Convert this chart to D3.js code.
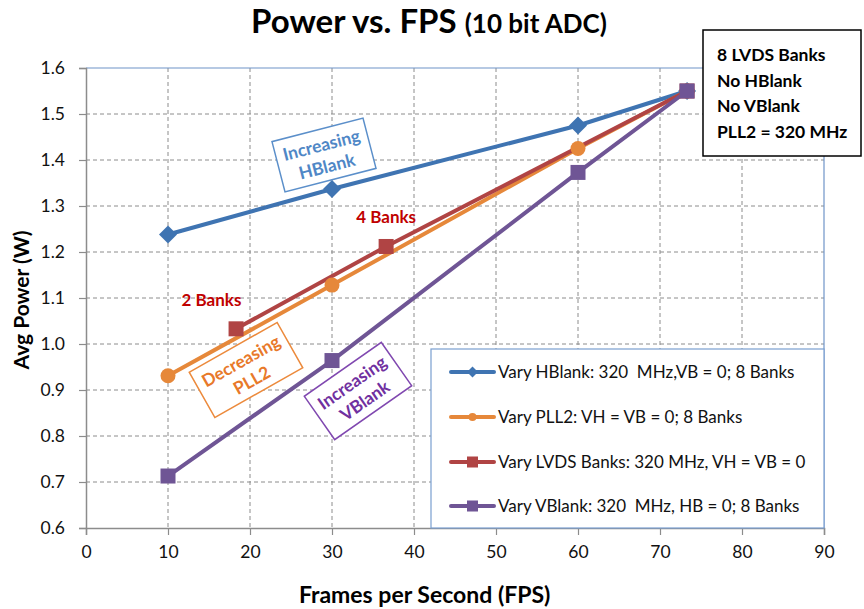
<!DOCTYPE html>
<html>
<head>
<meta charset="utf-8">
<script src="https://cdn.jsdelivr.net/npm/d3@7"></script>
<style>
  body { margin: 0; background: #fff; }
  svg { font-family: Lato, "Open Sans", sans-serif; }
</style>
</head>
<body>
<svg id="chart" width="864" height="609"></svg>
<script>
// data
var xTicks = [0, 10, 20, 30, 40, 50, 60, 70, 80, 90];
var yTicks = [0.6, 0.7, 0.8, 0.9, 1.0, 1.1, 1.2, 1.3, 1.4, 1.5, 1.6];

var hblankFps = [10, 30, 60, 73.3];
var hblankPow = [1.238, 1.337, 1.475, 1.55];
var pllFps = [10, 30, 60, 73.3];
var pllPow = [0.931, 1.128, 1.425, 1.55];
var lvdsFps = [18.3, 36.6, 73.3];
var lvdsPow = [1.033, 1.212, 1.55];
var vblankFps = [10, 30, 60, 73.3];
var vblankPow = [0.713, 0.964, 1.373, 1.55];

var seriesNames = [
  "Vary HBlank: 320  MHz,VB = 0; 8 Banks",
  "Vary PLL2: VH = VB = 0; 8 Banks",
  "Vary LVDS Banks: 320 MHz, VH = VB = 0",
  "Vary VBlank: 320  MHz, HB = 0; 8 Banks"
];
var seriesColors = ["#3f74b2", "#e6883a", "#b04444", "#6f5595"];
var seriesMarkers = ["diamond", "circle", "square", "square"];

var infoLines = ["8 LVDS Banks", "No HBlank", "No VBlank", "PLL2 = 320 MHz"];

(function () {
  var zip = function (xs, ys) {
    return xs.map(function (x, i) { return { x: x, y: ys[i] }; });
  };
  var series = [
    zip(hblankFps, hblankPow),
    zip(pllFps, pllPow),
    zip(lvdsFps, lvdsPow),
    zip(vblankFps, vblankPow)
  ];

  var svg = d3.select("#chart");
  var pl = 86, pr = 824, pt = 68, pb = 528;

  var x = d3.scaleLinear().domain([0, 90]).range([pl, pr]);
  var y = d3.scaleLinear().domain([0.6, 1.6]).range([pb, pt]);

  // grid
  svg.append("g").selectAll("line").data(xTicks.slice(1, -1)).enter().append("line")
    .attr("x1", function (d) { return x(d); }).attr("x2", function (d) { return x(d); })
    .attr("y1", pt).attr("y2", pb)
    .attr("stroke", "#8c8c8c").attr("stroke-width", 1).attr("stroke-dasharray", "4,3");
  svg.append("g").selectAll("line").data(yTicks.slice(1, -1)).enter().append("line")
    .attr("x1", pl).attr("x2", pr)
    .attr("y1", function (d) { return y(d); }).attr("y2", function (d) { return y(d); })
    .attr("stroke", "#8c8c8c").attr("stroke-width", 1).attr("stroke-dasharray", "4,3");

  // plot frame top / right
  svg.append("line").attr("x1", pl).attr("x2", pr).attr("y1", pt).attr("y2", pt)
    .attr("stroke", "#6f94c8").attr("stroke-width", 1.2);
  svg.append("line").attr("x1", pr).attr("x2", pr).attr("y1", pt).attr("y2", pb)
    .attr("stroke", "#6f94c8").attr("stroke-width", 1.2);

  // axes
  var xAxis = svg.append("g").attr("transform", "translate(0," + pb + ")")
    .call(d3.axisBottom(x).tickValues(xTicks).tickSize(7).tickPadding(11).tickFormat(d3.format("d")));
  var yAxis = svg.append("g").attr("transform", "translate(" + pl + ",0)")
    .call(d3.axisLeft(y).tickValues(yTicks).tickSize(7).tickPadding(14).tickFormat(d3.format(".1f")));
  [xAxis, yAxis].forEach(function (a) {
    a.select(".domain").attr("stroke", "#8c8c8c").attr("stroke-width", 1.5);
    a.selectAll(".tick line").attr("stroke", "#8c8c8c").attr("stroke-width", 1.2);
    a.selectAll(".tick text").attr("fill", "#111").style("font-size", "17.5px")
      .style("font-family", "Lato, sans-serif");
  });

  // lines + markers
  var line = d3.line().x(function (d) { return x(d.x); }).y(function (d) { return y(d.y); });

  var drawMarker = function (g, kind, color, size) {
    if (kind === "circle") {
      g.append("circle").attr("r", size / 2).attr("fill", color);
    } else if (kind === "square") {
      g.append("rect").attr("x", -size / 2).attr("y", -size / 2)
        .attr("width", size).attr("height", size).attr("fill", color);
    } else {
      var h = size / 2 + 1.5;
      g.append("path").attr("d", "M0," + (-h) + "L" + h + ",0L0," + h + "L" + (-h) + ",0Z")
        .attr("fill", color);
    }
  };

  series.forEach(function (data, i) {
    svg.append("path").datum(data).attr("d", line)
      .attr("fill", "none").attr("stroke", seriesColors[i]).attr("stroke-width", 4)
      .attr("stroke-linejoin", "round");
  });
  series.forEach(function (data, i) {
    data.forEach(function (d) {
      var g = svg.append("g").attr("transform", "translate(" + x(d.x) + "," + y(d.y) + ")");
      drawMarker(g, seriesMarkers[i], seriesColors[i], 15);
    });
  });

  // rotated annotation boxes
  var notes = [
    { text: ["Increasing", "HBlank"], cx: 324, cy: 155, w: 94, h: 52, angle: -14.5, color: "#4f87c6", border: "#5b8fca" },
    { text: ["Decreasing", "PLL2"], cx: 246, cy: 370, w: 101, h: 52, angle: -29.5, color: "#e8792a", border: "#ec8a3c" },
    { text: ["Increasing", "VBlank"], cx: 358, cy: 391, w: 94, h: 53, angle: -35, color: "#7030a0", border: "#8048b0" }
  ];
  notes.forEach(function (n) {
    var g = svg.append("g").attr("transform", "translate(" + n.cx + "," + n.cy + ") rotate(" + n.angle + ")");
    g.append("rect").attr("x", -n.w / 2).attr("y", -n.h / 2).attr("width", n.w).attr("height", n.h)
      .attr("fill", "#fff").attr("stroke", n.border).attr("stroke-width", 1.5);
    n.text.forEach(function (t, j) {
      g.append("text").attr("x", 0).attr("y", j === 0 ? -4 : 18)
        .attr("text-anchor", "middle").attr("fill", n.color)
        .style("font-size", "17.5px").style("font-weight", "bold").text(t);
    });
  });

  // bank labels
  svg.append("text").attr("x", x(15.3)).attr("y", 306).attr("text-anchor", "middle")
    .attr("fill", "#c00000").style("font-size", "17px").style("font-weight", "bold").text("2 Banks");
  svg.append("text").attr("x", x(36.6)).attr("y", 223).attr("text-anchor", "middle")
    .attr("fill", "#c00000").style("font-size", "17px").style("font-weight", "bold").text("4 Banks");

  // legend
  var lg = svg.append("g");
  lg.append("rect").attr("x", 431).attr("y", 349).attr("width", pr - 431).attr("height", pb - 349)
    .attr("fill", "#fff").attr("stroke", "#7a9fd0").attr("stroke-width", 1.2);
  var legY = [372, 417, 462, 506];
  seriesNames.forEach(function (name, i) {
    var g = lg.append("g").attr("transform", "translate(0," + legY[i] + ")");
    g.append("line").attr("x1", 451).attr("x2", 494).attr("y1", 0).attr("y2", 0)
      .attr("stroke", seriesColors[i]).attr("stroke-width", 4).attr("stroke-linecap", "round");
    var m = g.append("g").attr("transform", "translate(472.5,0)");
    drawMarker(m, seriesMarkers[i], seriesColors[i], seriesMarkers[i] === "square" ? 11 : 8);
    g.append("text").attr("x", 498).attr("y", 6).attr("fill", "#111")
      .style("font-size", "17px").style("white-space", "pre").text(name);
  });

  // info box
  svg.append("rect").attr("x", 703).attr("y", 30).attr("width", 158).attr("height", 126)
    .attr("fill", "#fff").attr("stroke", "#000").attr("stroke-width", 1.5);
  infoLines.forEach(function (t, i) {
    svg.append("text").attr("x", 717).attr("y", 61 + i * 25.7).attr("fill", "#000")
      .style("font-size", "17.5px").style("font-weight", "bold").text(t);
  });

  // title
  var title = svg.append("text").attr("x", 429).attr("y", 33).attr("text-anchor", "middle")
    .attr("fill", "#000").style("font-weight", "bold");
  title.append("tspan").style("font-size", "33px").text("Power vs. FPS ");
  title.append("tspan").style("font-size", "26px").text("(10 bit ADC)");

  // axis titles
  svg.append("text").attr("x", x(41.3)).attr("y", 603).attr("text-anchor", "middle")
    .style("font-size", "23px").style("font-weight", "bold").text("Frames per Second (FPS)");
  svg.append("text").attr("transform", "translate(29,300) rotate(-90)").attr("text-anchor", "middle")
    .style("font-size", "21px").style("font-weight", "bold").text("Avg Power (W)");
})();
</script>
</body>
</html>
